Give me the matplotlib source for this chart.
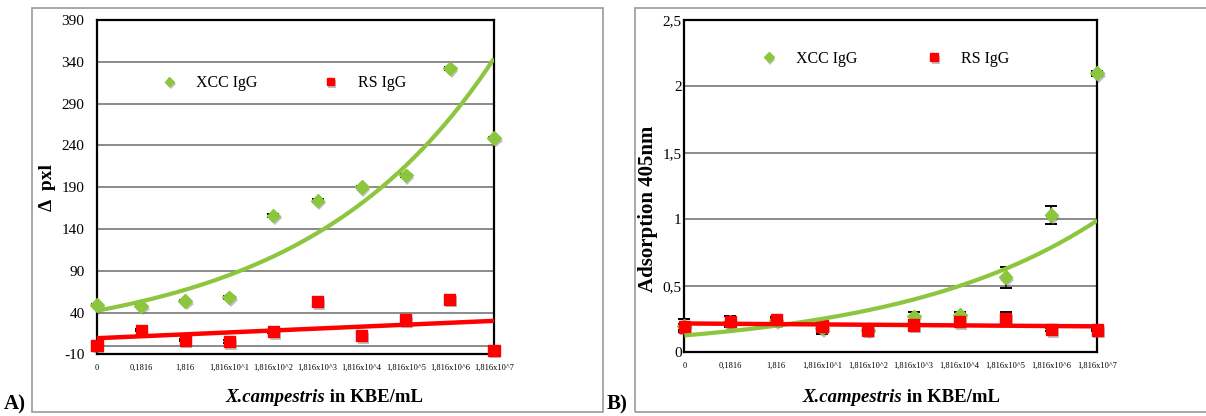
import numpy as np
import matplotlib
matplotlib.use("Agg")
import matplotlib.pyplot as plt
import matplotlib.patheffects as pe
from matplotlib.patches import Rectangle

plt.rcParams['font.family'] = ['Liberation Serif', 'DejaVu Serif']

# concentration steps (x axis categories)
conc = ['0', '0,1816', '1,816', '1,816x10^1', '1,816x10^2', '1,816x10^3',
        '1,816x10^4', '1,816x10^5', '1,816x10^6', '1,816x10^7']

# A) delta pxl
xcc_pxl = [49, 48, 54, 58, 156, 174, 190, 204, 332, 249]
xcc_pxl_err = [1.5, 1.5, 1.5, 1.5, 1.5, 1.5, 1.5, 1.5, 1.5, 1.5]
rs_pxl = [1, 19, 7, 5.5, 17, 53, 12, 31, 56, -5]
rs_pxl_err = [1.5, 1.5, 1.5, 1.5, 1.5, 1.5, 1.5, 1.5, 1.5, 1.5]

# B) ELISA absorption at 405 nm
xcc_abs = [0.20, 0.23, 0.24, 0.18, 0.17, 0.27, 0.28, 0.565, 1.033, 2.10]
xcc_abs_err = [0.05, 0.04, 0.02, 0.04, 0.02, 0.03, 0.02, 0.08, 0.065, 0.02]
rs_abs = [0.19, 0.23, 0.243, 0.198, 0.168, 0.205, 0.23, 0.256, 0.173, 0.168]
rs_abs_err = [0.02, 0.04, 0.02, 0.02, 0.02, 0.02, 0.02, 0.05, 0.01, 0.01]

GREEN = '#8cc63f'
RED = '#ff0000'
GRID = '#8a8a8a'

fig = plt.figure(figsize=(12.06, 4.16), dpi=100)
W, H = 1206.0, 416.0

# grey frames around the two panels
fig.patches.append(Rectangle((32 / W, 4 / H), 571 / W, 404 / H, transform=fig.transFigure,
                             fill=False, edgecolor='#9a9a9a', lw=1.2))
fig.patches.append(Rectangle((635 / W, 4 / H), 600 / W, 404 / H, transform=fig.transFigure,
                             fill=False, edgecolor='#9a9a9a', lw=1.2))

shadow = [pe.SimplePatchShadow(offset=(1.2, -2.0), shadow_rgbFace='#777777', alpha=0.45),
          pe.Normal()]


def panel(ax, xcc, xcc_err, rs, rs_err, ylim, yticks, ytlabels, zero_line, ypad):
    x = np.arange(len(conc))
    ax.set_xlim(0, len(conc) - 1)
    ax.set_ylim(*ylim)
    ax.set_yticks(yticks)
    ax.set_yticklabels(ytlabels)
    ax.set_xticks(x)
    ax.set_xticklabels(conc, fontsize=6)
    ax.tick_params(axis='both', length=0)
    ax.tick_params(axis='x', pad=7)
    ax.tick_params(axis='y', labelsize=11, pad=ypad)
    for t in yticks[1:-1]:
        ax.axhline(t, color=GRID, lw=1.4, zorder=1)
    if zero_line:
        ax.axhline(0, color=GRID, lw=1.4, zorder=1)
    for s in ax.spines.values():
        s.set_linewidth(1.6)
        s.set_color('black')

    ax.errorbar(x, xcc, yerr=xcc_err, fmt='none', ecolor='black', elinewidth=1.2,
                capsize=4, capthick=1.4, zorder=3, clip_on=False)
    ax.errorbar(x, rs, yerr=rs_err, fmt='none', ecolor='black', elinewidth=1.2,
                capsize=4, capthick=1.4, zorder=3, clip_on=False)
    hx, = ax.plot(x, xcc, ls='none', marker='D', ms=7, color=GREEN, mec=GREEN,
                  zorder=4, clip_on=False, path_effects=shadow, label='XCC IgG')
    hr, = ax.plot(x, rs, ls='none', marker='s', ms=8, color=RED, mec=RED,
                  zorder=5, clip_on=False, path_effects=shadow, label='RS IgG')

    # Excel-style trendlines: exponential for XCC, linear for RS (x = 1..n)
    xi = x + 1
    b, lna = np.polyfit(xi, np.log(xcc), 1)
    xs = np.linspace(1, len(conc), 200)
    ax.plot(xs - 1, np.exp(lna) * np.exp(b * xs), color=GREEN, lw=3, zorder=6,
            solid_capstyle='butt')
    m, c = np.polyfit(xi, rs, 1)
    ax.plot(xs - 1, m * xs + c, color=RED, lw=3.2, zorder=6, solid_capstyle='butt')
    return hx, hr


axA = fig.add_axes([97 / W, 1 - 354.3 / H, 397 / W, 334.3 / H])
hx, hr = panel(axA, xcc_pxl, xcc_pxl_err, rs_pxl, rs_pxl_err, (-10, 390),
               list(range(-10, 391, 50)), [str(v) for v in range(-10, 391, 50)], True, 9)
axA.legend([hx, hr], ['XCC IgG', 'RS IgG'], loc='center left', bbox_to_anchor=(0.142, 0.811),
           ncol=2, frameon=False, fontsize=11.5, borderpad=0, markerscale=0.7,
           handlelength=1.0, handletextpad=1.2, columnspacing=4.05)

axB = fig.add_axes([684.3 / W, 1 - 352.3 / H, 413 / W, 332.3 / H])
hx, hr = panel(axB, xcc_abs, xcc_abs_err, rs_abs, rs_abs_err, (0, 2.5),
               [0, 0.5, 1, 1.5, 2, 2.5], ['0', '0,5', '1', '1,5', '2', '2,5'], False, 2)
axB.legend([hx, hr], ['XCC IgG', 'RS IgG'], loc='center left', bbox_to_anchor=(0.166, 0.883),
           ncol=2, frameon=False, fontsize=11.5, borderpad=0, markerscale=0.7,
           handlelength=1.0, handletextpad=1.2, columnspacing=4.3)

# y axis titles
fig.text(48 / W, 1 - 188 / H, 'Δ  pxl', rotation=90, ha='center', va='center',
         fontsize=14, fontweight='bold')
fig.text(648 / W, 1 - 209 / H, 'Adsorption 405nm', rotation=90, ha='center', va='center',
         fontsize=15, fontweight='bold')

# x axis titles with italic species name
for xc in (330, 907):
    fig.text(xc / W - 0.004, 1 - 397 / H, 'X.campestris', ha='right', va='center',
             fontsize=13.5, fontweight='bold', fontstyle='italic')
    fig.text(xc / W - 0.004, 1 - 397 / H, ' in KBE/mL', ha='left', va='center',
             fontsize=13.5, fontweight='bold')

fig.text(4 / W, 1 - 404 / H, 'A)', ha='left', va='center', fontsize=15, fontweight='bold')
fig.text(607 / W, 1 - 404 / H, 'B)', ha='left', va='center', fontsize=15, fontweight='bold')

fig.savefig('out.png', dpi=100)
